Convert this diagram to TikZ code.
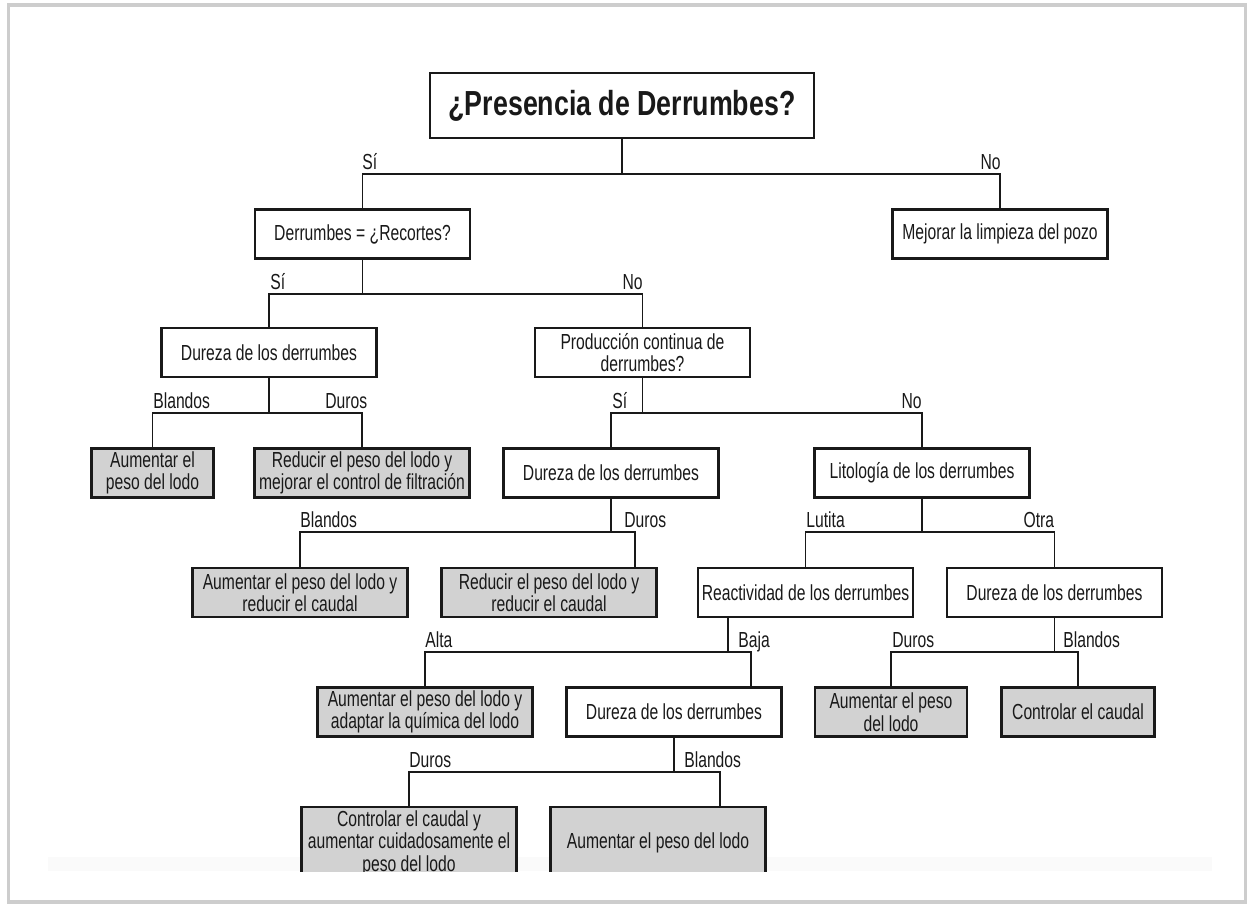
\documentclass[tikz,border=0pt]{standalone}
\usepackage{fontspec}
\setmainfont[FakeStretch=0.72]{Liberation Sans}
\newfontfamily\titlefont[FakeStretch=0.77]{Liberation Sans}
\usetikzlibrary{calc}
\definecolor{boxgray}{RGB}{210,210,210}
\definecolor{ink}{RGB}{25,25,25}
\definecolor{framegray}{RGB}{205,205,205}

\begin{document}
\begin{tikzpicture}[x=0.02cm, y=-0.02cm,
    box/.style={draw=ink, line width=1.3pt, fill=white, align=center, inner sep=1pt,
      minimum width=4.3cm, minimum height=0.98cm, text=ink,
      font=\fontsize{12.4}{12.8}\selectfont},
    result/.style={box, fill=boxgray},
    link/.style={draw=ink, line width=1.1pt},
    lab/.style={inner sep=0pt, text=ink, font=\fontsize{12.4}{12.8}\selectfont}]
    \useasboundingbox (0,0) rectangle (1248,904);
    % page frame
    \draw[framegray, line width=2.2pt] (8.5,5) rectangle (1245.5,902);
    \fill[black!2] (48,857) rectangle (1212,871);
    \begin{scope}
        \clip (12,8) rectangle (1242,871);
        % Boxes
        \node[box, minimum width=7.68cm, minimum height=1.31cm,
            font=\titlefont\bfseries\fontsize{19.8}{20}\selectfont] (title) at (622,105.5) {¿Presencia de Derrumbes?};
        \node[box] (recortes) at (362.5,234) {Derrumbes = ¿Recortes?};
        \node[box] (limpieza) at (1000,234) {Mejorar la limpieza del pozo};
        \node[box] (durezaA) at (269,352.5) {Dureza de los derrumbes};
        \node[box] (produccion) at (642.5,352.5) {Producción continua de\\derrumbes?};
        \node[result, minimum width=2.44cm] (pesoA) at (152.5,473) {Aumentar el\\peso del lodo};
        \node[result] (filtracion) at (362,473) {Reducir el peso del lodo y\\mejorar el control de filtración};
        \node[box] (durezaB) at (611,473) {Dureza de los derrumbes};
        \node[box] (litologia) at (922,473) {Litología de los derrumbes};
        \node[result] (caudalA) at (300,592.5) {Aumentar el peso del lodo y\\reducir el caudal};
        \node[result] (caudalB) at (549,592.5) {Reducir el peso del lodo y\\reducir el caudal};
        \node[box] (reactividad) at (805.5,592.5) {Reactividad de los derrumbes};
        \node[box] (durezaC) at (1054.5,592.5) {Dureza de los derrumbes};
        \node[result] (quimica) at (425,712) {Aumentar el peso del lodo y\\adaptar la química del lodo};
        \node[box] (durezaD) at (674,712) {Dureza de los derrumbes};
        \node[result, minimum width=3.04cm] (pesoB) at (891,712) {Aumentar el peso\\del lodo};
        \node[result, minimum width=3.06cm] (caudalC) at (1078,712) {Controlar el caudal};
        \node[result, minimum height=1.44cm] (cuidado) at (409,843) {Controlar el caudal y\\aumentar cuidadosamente el\\peso del lodo};
        \node[result, minimum height=1.44cm] (pesoC) at (658,843) {Aumentar el peso del lodo};
        % Coordinates
        \coordinate (J1) at (622,174);
        \coordinate (J2) at (362.5,294);
        \coordinate (J3) at (269,413);
        \coordinate (J4) at (642.5,413);
        \coordinate (J5) at (611,532);
        \coordinate (J6) at (922,532);
        \coordinate (J7) at (728,652);
        \coordinate (J8) at (1054.5,652);
        \coordinate (J9) at (674,772);
        \coordinate (B1) at ($(caudalB.north)+(86,0)$);
        \coordinate (R1) at ($(reactividad.south)+(-77.5,0)$);
        \coordinate (D1) at ($(durezaD.north)+(77,0)$);
        \coordinate (P1) at ($(pesoC.north)+(62,0)$);
        % draw connectors
        \draw[link] (title) -- (J1);
        \draw[link] (recortes) |- (J1) -| (limpieza);
        \draw[link] (recortes) -- (J2);
        \draw[link] (durezaA) |- (J2) -| (produccion);
        \draw[link] (durezaA) -- (J3);
        \draw[link] (pesoA) |- (J3) -| (filtracion);
        \draw[link] (produccion) -- (J4);
        \draw[link] (durezaB) |- (J4) -| (litologia);
        \draw[link] (durezaB) -- (J5);
        \draw[link] (caudalA) |- (J5) -| (B1);
        \draw[link] (litologia) -- (J6);
        \draw[link] (reactividad) |- (J6) -| (durezaC);
        \draw[link] (R1) -- (J7);
        \draw[link] (quimica) |- (J7) -| (D1);
        \draw[link] (durezaC) -- (J8);
        \draw[link] (pesoB) |- (J8) -| (caudalC);
        \draw[link] (durezaD) -- (J9);
        \draw[link] (cuidado) |- (J9) -| (P1);
        % Labels
        \node[lab, anchor=base west] (l1) at (362,169) {Sí};
        \node[lab, anchor=base east] (l2) at (1001,169) {No};
        \node[lab, anchor=base west] (l3) at (270,289) {Sí};
        \node[lab, anchor=base east] (l4) at (643,289) {No};
        \node[lab, anchor=base west] (l5) at (153,408) {Blandos};
        \node[lab, anchor=base west] (l6) at (325,408) {Duros};
        \node[lab, anchor=base west] (l7) at (612,408) {Sí};
        \node[lab, anchor=base east] (l8) at (922,408) {No};
        \node[lab, anchor=base west] (l9) at (300,527) {Blandos};
        \node[lab, anchor=base west] (l10) at (624,527) {Duros};
        \node[lab, anchor=base west] (l11) at (806,527) {Lutita};
        \node[lab, anchor=base east] (l12) at (1054.5,527) {Otra};
        \node[lab, anchor=base west] (l13) at (425,647) {Alta};
        \node[lab, anchor=base west] (l14) at (738,647) {Baja};
        \node[lab, anchor=base west] (l15) at (892,647) {Duros};
        \node[lab, anchor=base west] (l16) at (1063,647) {Blandos};
        \node[lab, anchor=base west] (l17) at (409,767) {Duros};
        \node[lab, anchor=base west] (l18) at (684,767) {Blandos};
    \end{scope}
\end{tikzpicture}
\end{document}
